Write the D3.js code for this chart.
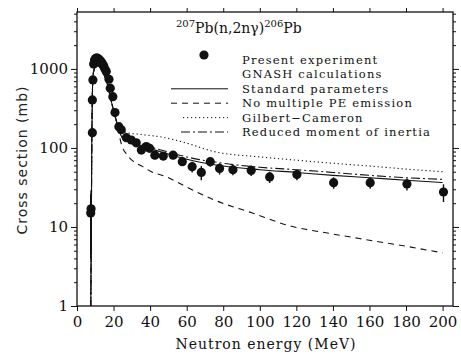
<!DOCTYPE html>
<html>
<head>
<meta charset="utf-8">
<script src="https://cdn.jsdelivr.net/npm/d3@7"></script>
<style>
  body { margin: 0; background: #fff; }
  svg { display: block; }
</style>
</head>
<body>
<svg id="chart" width="461" height="355"></svg>
<script>
// measured points: energy (MeV), cross section (mb), error (mb)
const expEnergy = [7.5, 7.7, 8.4, 8.4, 8.7, 9.1, 9.6, 10.2, 10.8, 11.4, 12.0, 12.6, 13.2, 13.8, 14.6, 15.3, 16.0,
  17.5, 18.2, 19.6, 20.8, 22.9, 24.2, 27.0, 29.7, 32.4, 35.2, 37.9, 39.7, 42.6, 47.2, 52.6, 57.6,
  63.0, 68.0, 72.9, 78.0, 85.3, 95.3, 105.4, 120.3, 140.4, 160.4, 180.5, 200.5];
const expValue = [15, 17, 156, 405, 725, 1150, 1300, 1350, 1380, 1350, 1320, 1280, 1230, 1180, 1100, 1000, 925,
  740, 570, 445, 280, 186, 170, 135, 126, 116, 94, 104, 99, 81, 79, 81, 67,
  58, 49, 67, 55, 53, 52, 43, 46, 36.4, 36.4, 35, 27.7];
const expError = [11, 12, 20, 40, 60, 90, 100, 100, 100, 100, 100, 100, 100, 100, 90, 80, 80,
  60, 50, 40, 25, 18, 18, 15, 13, 12, 10, 11, 10, 9, 9, 9, 8,
  9, 10, 9, 9, 8, 8, 7, 7, 6, 6, 6, 7];

// GNASH curves: shared low-energy part
const lowEnergy = [7.55, 7.8, 8.1, 8.5, 9.0, 10.0, 11.0, 12.0, 13.0, 14.0, 15.0, 16.0, 17.0, 18.0, 19.0, 20.0, 21.0, 22.0];
const lowValue = [1, 8, 120, 600, 900, 1060, 1100, 1080, 1010, 920, 820, 720, 590, 470, 370, 300, 245, 200];

const stdEnergy = [24, 26, 30, 40, 50, 60, 80, 100, 120, 140, 160, 180, 200];
const stdValue = [145, 126, 117, 98, 84, 72, 59, 53, 49, 45, 42, 39, 36.5];

const noPeEnergy = [23, 24, 25, 27, 30, 36, 40, 49, 60, 75, 96, 116, 138, 160, 180, 200];
const noPeValue = [150, 118, 100, 84, 70, 58, 51, 43, 32, 22, 15, 10.4, 8.3, 6.8, 5.7, 4.7];

const gcEnergy = [23, 24.5, 27, 35, 45, 60, 75, 100, 120, 140, 160, 180, 200];
const gcValue = [185, 165, 157, 148, 139, 115, 90, 77, 70, 64, 59, 54, 50];

const rmiEnergy = [24, 26, 30, 40, 50, 60, 80, 100, 120, 140, 160, 180, 200];
const rmiValue = [147, 128, 121, 103, 89, 77, 64, 57, 53, 49, 45, 42, 40];

const xTicks = [0, 20, 40, 60, 80, 100, 120, 140, 160, 180, 200];
const yTicks = [1, 10, 100, 1000];
const legendLabels = ['Present experiment', 'GNASH calculations', 'Standard parameters',
  'No multiple PE emission', 'Gilbert\u2212Cameron', 'Reduced moment of inertia'];

const ink = '#111';
const serif = 'DejaVu Serif, serif';
const svg = d3.select('#chart');

const x = d3.scaleLinear().domain([0, 205.7]).range([77, 453]);
const y = d3.scaleLog().domain([1, 5250]).range([306, 12]);

// frame
svg.append('rect')
  .attr('x', x.range()[0]).attr('y', y.range()[1])
  .attr('width', x.range()[1] - x.range()[0])
  .attr('height', y.range()[0] - y.range()[1])
  .attr('fill', 'none').attr('stroke', ink).attr('stroke-width', 1.3);

// minor log ticks 2..9 per decade
const minorY = [];
for (let d = 1; d <= 1000; d *= 10) {
  for (let k = 2; k <= 9; k++) if (d * k <= 5250) minorY.push(d * k);
}

const gxb = svg.append('g').attr('transform', `translate(0,${y.range()[0]})`)
  .call(d3.axisBottom(x).tickValues(xTicks).tickSize(5).tickPadding(5));
const gxt = svg.append('g').attr('transform', `translate(0,${y.range()[1]})`)
  .call(d3.axisTop(x).tickValues(xTicks).tickSize(4).tickFormat(''));

const gyl = svg.append('g').attr('transform', `translate(${x.range()[0]},0)`)
  .call(d3.axisLeft(y).tickValues(yTicks).tickSize(6).tickPadding(3).tickFormat(d3.format('d')));
const gylm = svg.append('g').attr('transform', `translate(${x.range()[0]},0)`)
  .call(d3.axisLeft(y).tickValues(minorY).tickSize(3).tickFormat(''));
const gyr = svg.append('g').attr('transform', `translate(${x.range()[1]},0)`)
  .call(d3.axisRight(y).tickValues(yTicks).tickSize(6).tickFormat(''));
const gyrm = svg.append('g').attr('transform', `translate(${x.range()[1]},0)`)
  .call(d3.axisRight(y).tickValues(minorY).tickSize(3).tickFormat(''));

[gxb, gxt, gyl, gylm, gyr, gyrm].forEach(g => {
  g.select('.domain').remove();
  g.selectAll('line').attr('stroke', ink).attr('stroke-width', 1);
  g.selectAll('text').attr('fill', ink).style('font-family', serif).style('font-size', '15px');
});
gxb.selectAll('text').attr('dy', '0.75em');

// axis titles
svg.append('text')
  .attr('transform', `translate(22,160) rotate(-90)`)
  .attr('text-anchor', 'middle')
  .attr('dy', '0.35em')
  .style('font-family', 'DejaVu Sans, sans-serif').style('font-size', '14px').style('letter-spacing', '1px')
  .attr('fill', '#222')
  .text('Cross section (mb)');

svg.append('text')
  .attr('x', 266).attr('y', 349)
  .attr('text-anchor', 'middle')
  .style('font-family', serif).style('font-size', '14px').style('letter-spacing', '1px')
  .attr('fill', ink)
  .text('Neutron energy (MeV)');

// curves
const line = d3.line().x(d => x(d[0])).y(d => y(d[1])).curve(d3.curveMonotoneX);
const pairs = (xs, vs) => xs.map((e, i) => [e, vs[i]]);
const lowPart = pairs(lowEnergy, lowValue);

const curves = [
  { data: lowPart.concat(pairs(stdEnergy, stdValue)), dash: null },
  { data: lowPart.concat(pairs(noPeEnergy, noPeValue)), dash: '6,5' },
  { data: lowPart.concat(pairs(gcEnergy, gcValue)), dash: '1.2,2.8' },
  { data: lowPart.concat(pairs(rmiEnergy, rmiValue)), dash: '9,3,2,3' }
];

svg.append('g').selectAll('path')
  .data(curves)
  .enter().append('path')
  .attr('d', c => line(c.data))
  .attr('fill', 'none')
  .attr('stroke', ink)
  .attr('stroke-width', 1.1)
  .attr('stroke-dasharray', c => c.dash);

// experiment points with error bars
const points = expEnergy.map((e, i) => ({ e: e, v: expValue[i], err: expError[i] }));
const pts = svg.append('g').selectAll('g')
  .data(points)
  .enter().append('g');

pts.append('line')
  .attr('x1', p => x(p.e)).attr('x2', p => x(p.e))
  .attr('y1', p => y(Math.max(p.v - p.err, 1)))
  .attr('y2', p => y(p.v + p.err))
  .attr('stroke', ink).attr('stroke-width', 1.4);

pts.append('circle')
  .attr('cx', p => x(p.e))
  .attr('cy', p => y(p.v))
  .attr('r', 4.6)
  .attr('fill', ink);

// title
const title = svg.append('text')
  .attr('x', 176).attr('y', 33)
  .style('font-family', serif).style('font-size', '14px')
  .attr('fill', ink);
title.append('tspan').attr('dy', -6).style('font-size', '10px').text('207');
title.append('tspan').attr('dy', 6).text('Pb(n,2n\u03b3)');
title.append('tspan').attr('dy', -6).style('font-size', '10px').text('206');
title.append('tspan').attr('dy', 6).text('Pb');

// legend
const legendY = d3.scalePoint().domain(legendLabels).range([60, 132]);
const legend = svg.append('g');

legend.selectAll('text')
  .data(legendLabels)
  .enter().append('text')
  .attr('x', 242)
  .attr('y', d => legendY(d))
  .attr('dy', '0.35em')
  .style('font-family', serif).style('font-size', '11.5px').style('letter-spacing', '1.2px')
  .attr('fill', ink)
  .text(d => d);

legend.append('circle')
  .attr('cx', 204).attr('cy', legendY(legendLabels[0]) - 5)
  .attr('r', 4.6).attr('fill', ink);

const samples = [
  { label: legendLabels[2], dash: null, x0: 171 },
  { label: legendLabels[3], dash: '6,5', x0: 171 },
  { label: legendLabels[4], dash: '1.2,2.8', x0: 183 },
  { label: legendLabels[5], dash: '9,3,2,3', x0: 181 }
];
legend.selectAll('line')
  .data(samples)
  .enter().append('line')
  .attr('x1', s => s.x0).attr('x2', 228)
  .attr('y1', s => legendY(s.label)).attr('y2', s => legendY(s.label))
  .attr('stroke', ink).attr('stroke-width', 1)
  .attr('stroke-dasharray', s => s.dash);
</script>
</body>
</html>
